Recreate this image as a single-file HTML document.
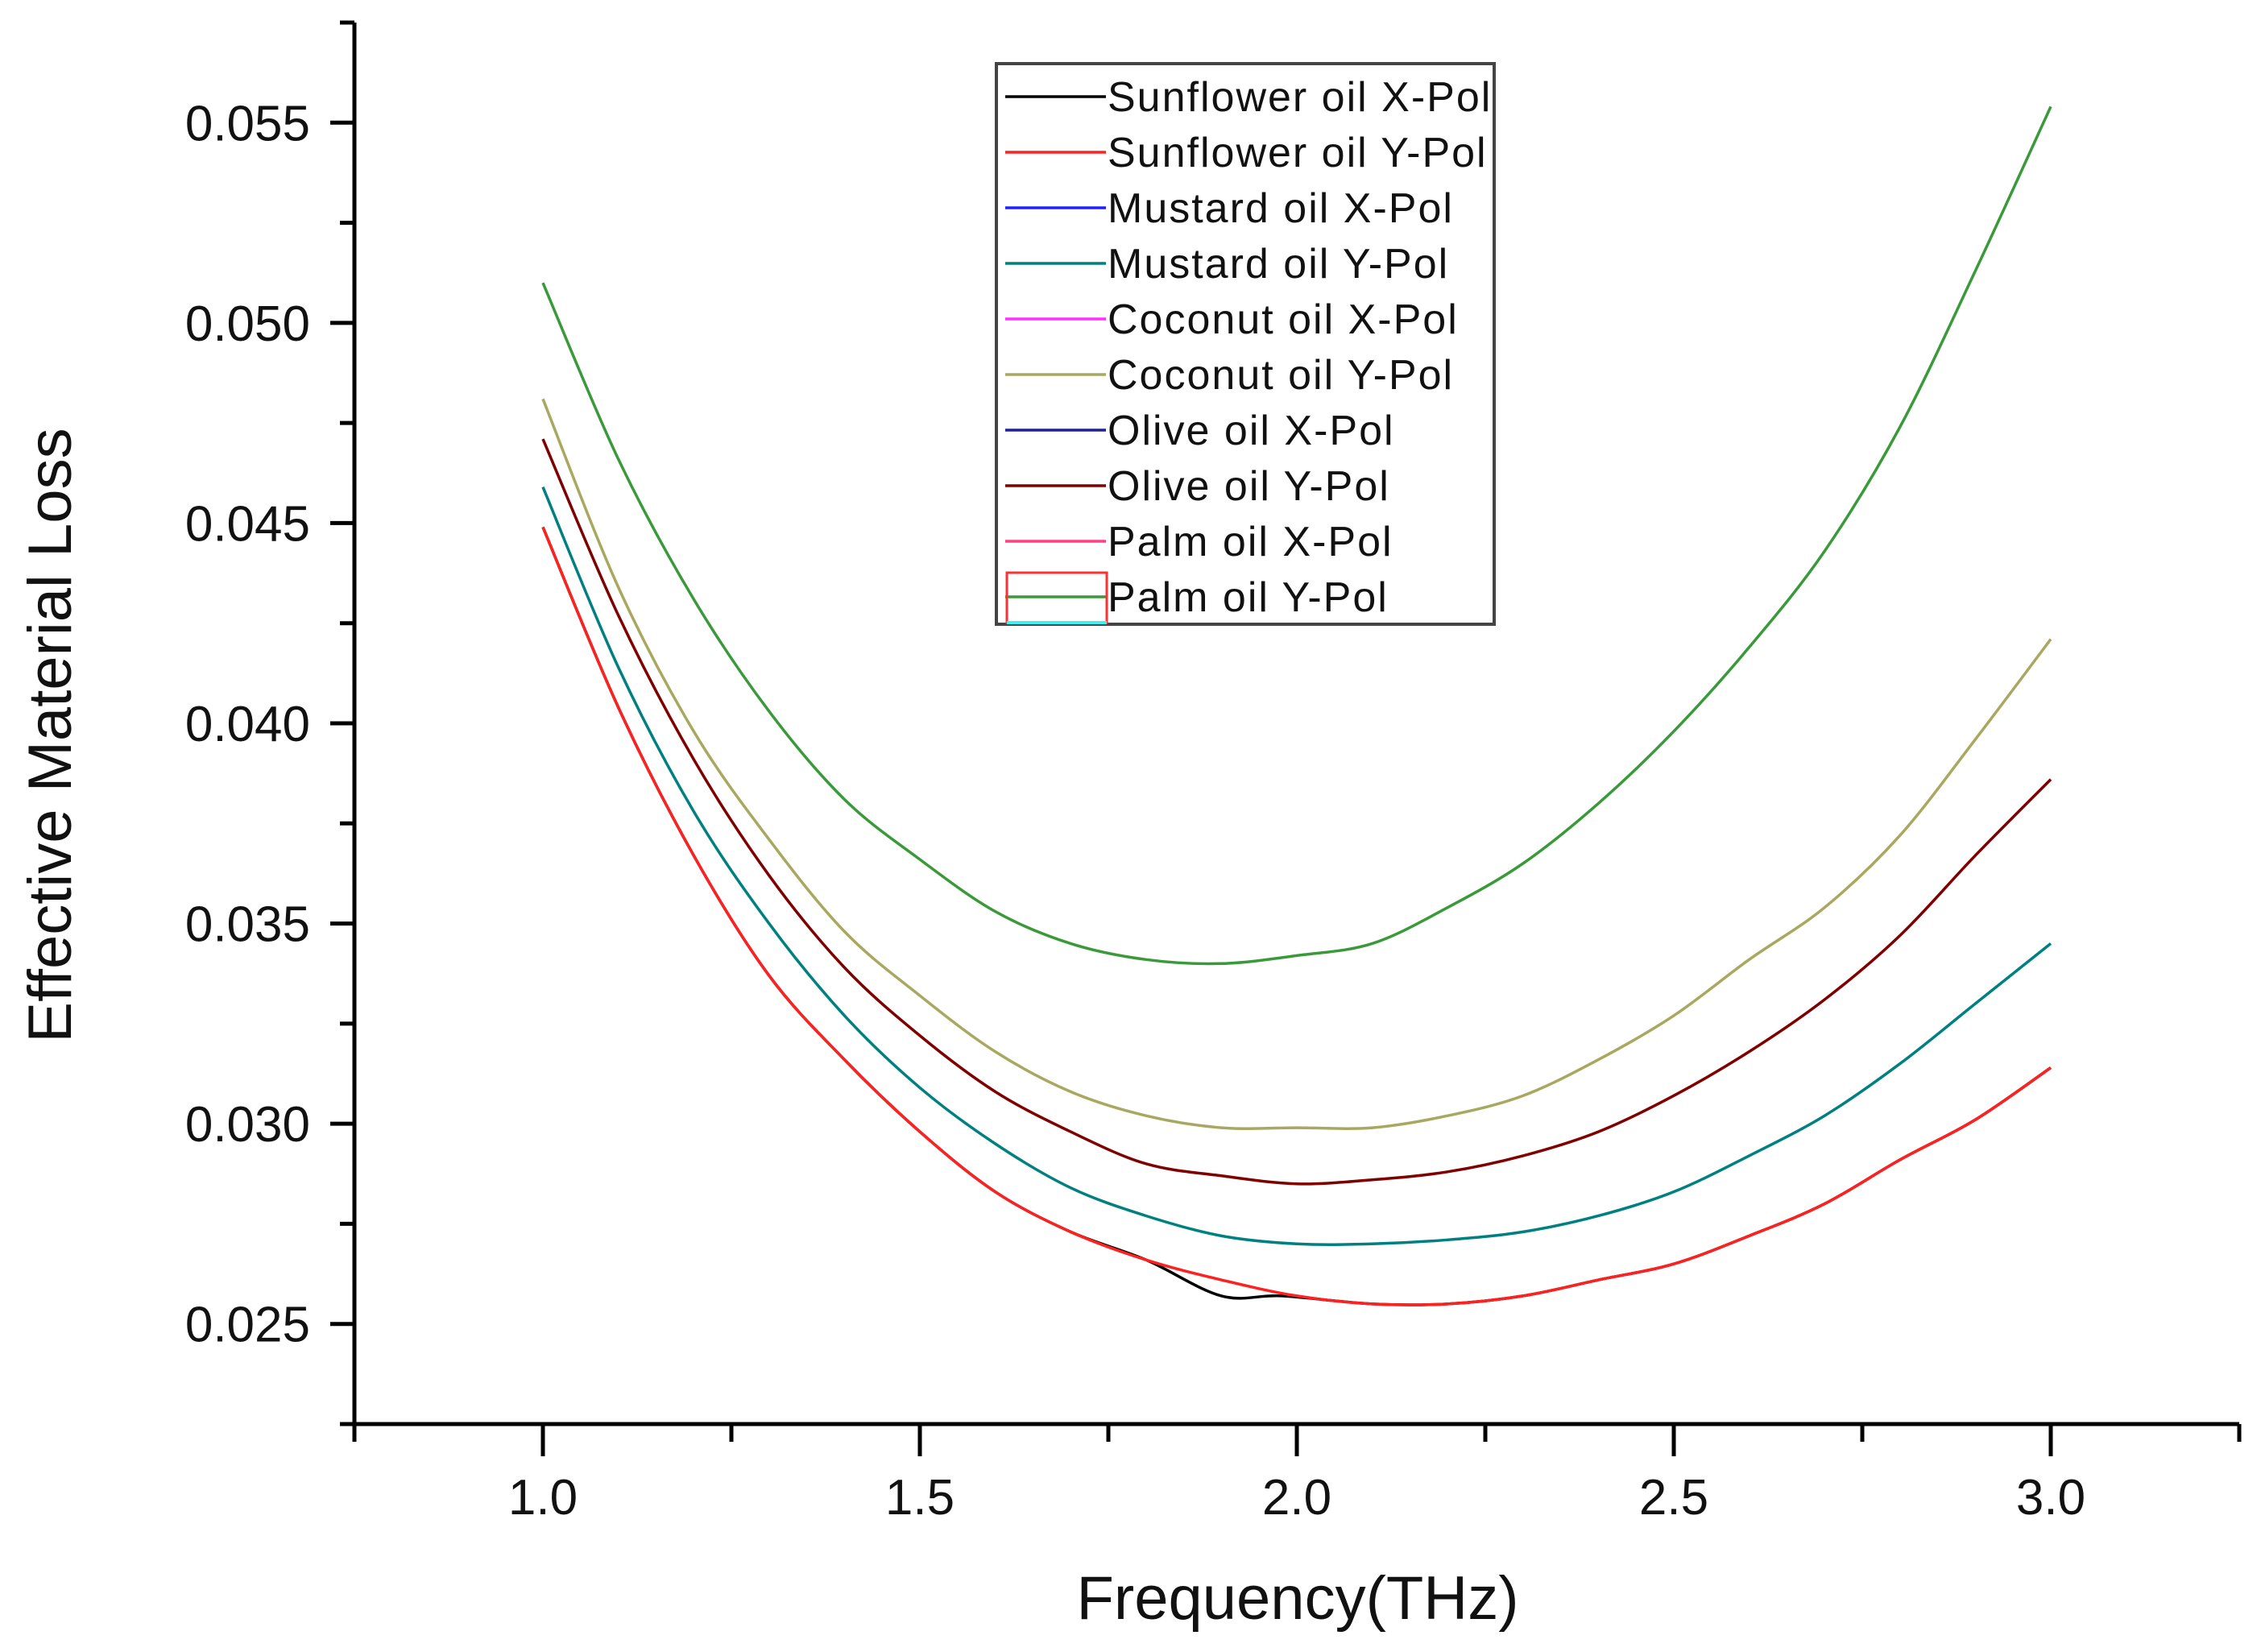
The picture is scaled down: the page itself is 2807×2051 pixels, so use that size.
<!DOCTYPE html>
<html><head><meta charset="utf-8"><style>
html,body{margin:0;padding:0;background:#fff;}
svg{display:block;font-family:"Liberation Sans",Arial,sans-serif;}
</style></head><body>
<svg id="chart" width="2807" height="2051" viewBox="0 0 2807 2051" xmlns="http://www.w3.org/2000/svg">
<rect width="2807" height="2051" fill="#fff"/>
<g id="plot"></g>
<text x="1611" y="2010" font-size="76" text-anchor="middle" fill="#111">Frequency(THz)</text>
<text transform="translate(88,913) rotate(-90)" font-size="76" text-anchor="middle" fill="#111">Effective Material Loss</text>
<g id="legend"></g>
</svg>
<script>
const xVals=[1.0,1.1,1.2,1.3,1.4,1.5,1.6,1.7,1.8,1.9,2.0,2.1,2.2,2.3,2.4,2.5,2.6,2.7,2.8,2.9,3.0];
const sunflowerY=[0.0449,0.0404,0.0367,0.0337,0.0316,0.0298,0.0283,0.0273,0.0266,0.0261,0.0257,0.0255,0.0255,0.0257,0.0261,0.0265,0.0272,0.0280,0.0291,0.0301,0.0314];
const sunflowerXx=[1.0,1.1,1.2,1.3,1.4,1.5,1.6,1.7,1.8,1.9,1.98,2.1,2.2,2.3,2.4,2.5,2.6,2.7,2.8,2.9,3.0];
const sunflowerX=[0.0449,0.0404,0.0367,0.0337,0.0316,0.0298,0.0283,0.0273,0.0266,0.0257,0.0257,0.0255,0.0255,0.0257,0.0261,0.0265,0.0272,0.0280,0.0291,0.0301,0.0314];
const mustardY=[0.0459,0.0414,0.0378,0.0350,0.0327,0.0309,0.0295,0.0284,0.0277,0.0272,0.0270,0.0270,0.0271,0.0273,0.0277,0.0283,0.0292,0.0302,0.0315,0.0330,0.0345];
const oliveY=[0.0471,0.0427,0.0391,0.0362,0.0339,0.0322,0.0308,0.0298,0.0290,0.0287,0.0285,0.0286,0.0288,0.0292,0.0298,0.0307,0.0318,0.0331,0.0347,0.0367,0.0386];
const coconutY=[0.0481,0.0434,0.0398,0.0371,0.0348,0.0332,0.0318,0.0308,0.0302,0.0299,0.0299,0.0299,0.0302,0.0307,0.0316,0.0327,0.0341,0.0354,0.0372,0.0396,0.0421];
const palmY=[0.0510,0.0466,0.0431,0.0403,0.0381,0.0366,0.0353,0.0345,0.0341,0.0340,0.0342,0.0345,0.0354,0.0365,0.0380,0.0398,0.0419,0.0443,0.0474,0.0513,0.0554];
const xTicks=[1.0,1.5,2.0,2.5,3.0];
const xTickLabels=["1.0","1.5","2.0","2.5","3.0"];
const yTicks=[0.025,0.030,0.035,0.040,0.045,0.050,0.055];
const yTickLabels=["0.025","0.030","0.035","0.040","0.045","0.050","0.055"];
const legendLabels=["Sunflower oil X-Pol","Sunflower oil Y-Pol","Mustard oil X-Pol","Mustard oil Y-Pol","Coconut oil X-Pol","Coconut oil Y-Pol","Olive oil X-Pol","Olive oil Y-Pol","Palm oil X-Pol","Palm oil Y-Pol"];
const legendColors=["#000000","#ff2020","#2020ff","#008080","#ff30ff","#a8a860","#202090","#800000","#ff4080","#3a9a3a"];

const NS="http://www.w3.org/2000/svg";
const X0=440,X1=2780,Y0=1768,Y1=28;
const xmin=0.75,xmax=3.25,ymin=0.0225,ymax=0.0575;
function sx(v){return X0+(v-xmin)/(xmax-xmin)*(X1-X0);}
function sy(v){return Y0-(v-ymin)/(ymax-ymin)*(Y0-Y1);}
function mk(tag,attrs,parent){const e=document.createElementNS(NS,tag);for(const k in attrs)e.setAttribute(k,attrs[k]);parent.appendChild(e);return e;}
const plot=document.getElementById('plot');

function pathFor(xs,ys){
  const p=xs.map((x,i)=>[sx(x),sy(ys[i])]);
  let d="M"+p[0][0]+","+p[0][1];
  for(let i=0;i<p.length-1;i++){
    const p0=p[i-1]||p[i],p1=p[i],p2=p[i+1],p3=p[i+2]||p[i+1];
    const c1=[p1[0]+(p2[0]-p0[0])/6,p1[1]+(p2[1]-p0[1])/6];
    const c2=[p2[0]-(p3[0]-p1[0])/6,p2[1]-(p3[1]-p1[1])/6];
    d+=" C"+c1[0]+","+c1[1]+" "+c2[0]+","+c2[1]+" "+p2[0]+","+p2[1];
  }
  return d;
}
function series(xs,ys,color,name){
  const e=mk('path',{d:pathFor(xs,ys),fill:'none',stroke:color,'stroke-width':3.5},plot);
  
  
}
series(sunflowerXx,sunflowerX,"#000000","sunflower-x-pol-line");
series(xVals,sunflowerY,"#ff2020","sunflower-y-pol-line");
series(xVals,mustardY,"#008080","mustard-y-pol-line");
series(xVals,oliveY,"#800000","olive-y-pol-line");
series(xVals,coconutY,"#a8a860","coconut-y-pol-line");
series(xVals,palmY,"#3a9a3a","palm-y-pol-line");

const ax=mk('path',{d:`M${X0},${Y1} L${X0},${Y0} L${X1},${Y0}`,fill:'none',stroke:'#000','stroke-width':5},plot);


for(let v=0.75;v<=3.2501;v+=0.25){
  const major=Math.abs(v*2-Math.round(v*2))<1e-6 && v>=1;
  const t=mk('line',{x1:sx(v),x2:sx(v),y1:Y0,y2:Y0+(major?40:22),stroke:'#000','stroke-width':5},plot);
  
  
}
xTicks.forEach((v,i)=>{
  const t=mk('text',{x:sx(v),y:Y0+112,'font-size':62,'text-anchor':'middle',fill:'#111'},plot);
  t.textContent=xTickLabels[i];
  
  
});
for(let v=0.0225;v<=0.05751;v+=0.0025){
  const major=Math.abs(v/0.005-Math.round(v/0.005))<1e-6;
  const t=mk('line',{x1:X0-(major?30:18),x2:X0,y1:sy(v),y2:sy(v),stroke:'#000','stroke-width':5},plot);
  
  
}
yTicks.forEach((v,i)=>{
  const t=mk('text',{x:X0-55,y:sy(v)+22,'font-size':62,'text-anchor':'end',fill:'#111'},plot);
  t.textContent=yTickLabels[i];
  
  
});

const lg=document.getElementById('legend');
const box=mk('rect',{x:1237,y:79,width:618,height:696,fill:'#fff',stroke:'#444','stroke-width':4},lg);


legendLabels.forEach((lab,i)=>{
  const y=120+i*69;
  const l=mk('line',{x1:1248,x2:1373,y1:y,y2:y,stroke:legendColors[i],'stroke-width':3.5},lg);
  
  
  const t=mk('text',{x:1375,y:y+18,'font-size':52,'letter-spacing':2,fill:'#111'},lg);
  t.textContent=lab;
  
  
});
const sel=mk('rect',{x:1250,y:711,width:124,height:62,fill:'none',stroke:'#ff3030','stroke-width':3},lg);


const cy=mk('line',{x1:1250,x2:1374,y1:773,y2:773,stroke:'#40f0f0','stroke-width':4},lg);


</script>
</body></html>
